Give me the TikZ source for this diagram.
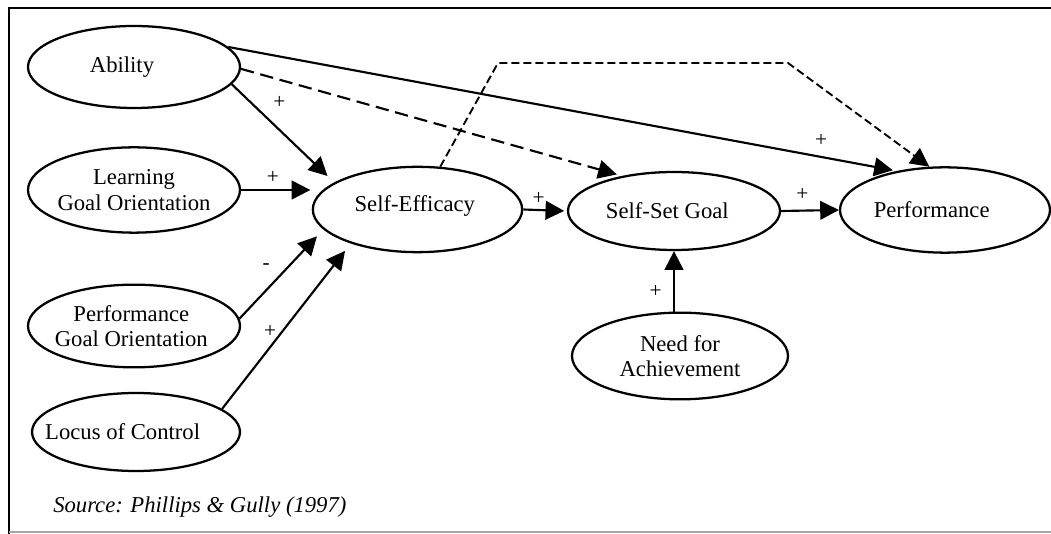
\documentclass[tikz,border=0pt]{standalone}
\usepackage{fontspec}
\setmainfont{Liberation Serif}
\usetikzlibrary{shapes.geometric,arrows.meta}
\begin{document}
\begin{tikzpicture}[x=0.75pt,y=-0.75pt,
  ov/.style={draw, ellipse, line width=1.7pt, inner sep=0pt},
  txt/.style={font=\fontsize{17}{19}\selectfont, align=center, inner sep=0pt},
  arr/.style={line width=1.6pt, -{Triangle[length=14pt,width=14pt]}},
  longdash/.style={dash pattern=on 10pt off 5pt},
  shortdash/.style={dash pattern=on 6pt off 3pt},
  lbl/.style={font=\fontsize{16}{18}\selectfont, inner sep=1pt},
  frame/.style={line width=2pt}
]
\useasboundingbox (0,0) rectangle (1051,534);

% frame
\draw[frame] (1051,8) -- (9,8) -- (9,534);
\draw[gray!70, line width=1.2pt] (9,532) -- (1051,532);

% ellipses
\node[ov, minimum width=159pt, minimum height=61.5pt] (ab)   at (134,67)    {};
\node[ov, minimum width=159pt, minimum height=64pt]   (lgo)  at (134,190)   {};
\node[ov, minimum width=159pt, minimum height=62pt]   (pgo)  at (134,326)   {};
\node[ov, minimum width=156pt, minimum height=58.5pt] (loc)  at (136,432)   {};
\node[ov, minimum width=157pt, minimum height=64pt]   (se)   at (417.5,209.5) {};
\node[ov, minimum width=159pt, minimum height=58.5pt] (ssg)  at (674,211)   {};
\node[ov, minimum width=157.5pt, minimum height=64pt] (perf) at (945,210)   {};
\node[ov, minimum width=162pt, minimum height=65pt]   (need) at (680,356)   {};

% texts
\node[txt] (abT)   at ([xshift=-9pt]ab.center)   {Ability};
\node[txt] (lgoT)  at (lgo.center)                {Learning\\Goal Orientation};
\node[txt] (pgoT)  at ([xshift=-2pt]pgo.center)  {Performance\\Goal Orientation};
\node[txt] (locT)  at ([xshift=-10pt]loc.center) {Locus of Control};
\node[txt] (seT)   at ([xshift=-2pt,yshift=3pt]se.center) {Self-Efficacy};
\node[txt] (ssgT)  at ([xshift=-5pt]ssg.center)  {Self-Set Goal};
\node[txt] (perfT) at ([xshift=-10pt]perf.center) {Performance};
\node[txt] (needT) at (need.center)               {Need for\\Achievement};

% connectors
\draw[arr, shorten >=3pt] (ab.12) -- node[lbl, pos=0.887, above=6pt] (l1) {+} (perf.141);
\draw[arr, longdash, shorten >=4pt] (ab.-1) -- (ssg.146);
\draw[arr, shorten >=7pt] (ab.-10) -- node[lbl, pos=0.33, above right=4pt] (l2) {+} (se.162);
\draw[arr, shorten >=1pt] (lgo.east) -- node[lbl, pos=0.45, above=3pt] (l3) {+} (lgo.east -| se.west);
\draw[arr, shorten >=7pt] (pgo.4) -- node[lbl, pos=0.58, left=12pt] (l4) {-} (se.192);
\draw[arr, shorten >=7pt] (loc.15) -- node[lbl, pos=0.47, left=3pt] (l5) {+} (se.207);
\draw[arr, shorten >=2pt] (se.east) -- node[lbl, pos=0.35, above=2pt] (l6) {+} (ssg.west);
\draw[arr] (ssg.east) -- node[lbl, pos=0.37, above=6pt] (l7) {+} (perf.west);
\draw[arr] (ssg.south |- need.north) -- node[lbl, pos=0.33, left=7.5pt] (l8) {+} (ssg.south);

\coordinate (c1) at (498,63);
\coordinate (c2) at (788,63);
\draw[arr, shortdash, line width=1.4pt] (se.62) -- (c1) -- (c2) -- (perf.110);

% source
\node[font=\fontsize{17}{19}\selectfont\itshape, anchor=base west, inner sep=0pt] (src) at (53,513) {Source: Phillips \& Gully (1997)};
\end{tikzpicture}
\end{document}
